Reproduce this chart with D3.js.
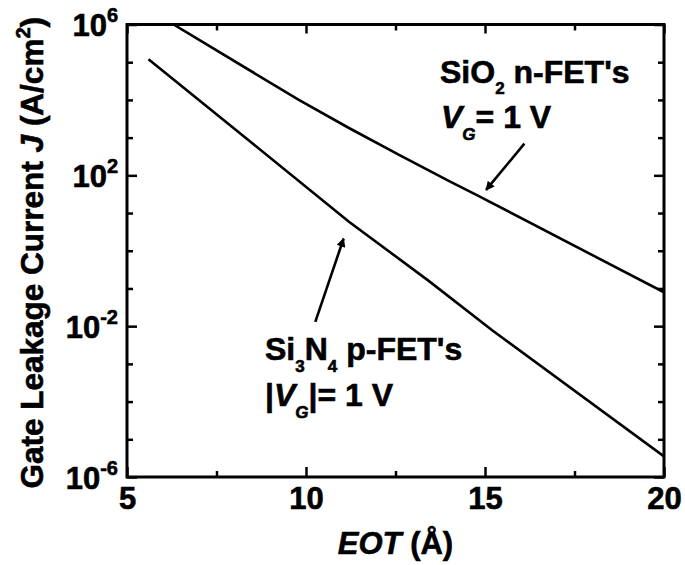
<!DOCTYPE html>
<html>
<head>
<meta charset="utf-8">
<script src="https://cdn.jsdelivr.net/npm/d3@7"></script>
<style>
body { margin: 0; background: #fff; }
svg { font-family: "Liberation Sans", Arial, sans-serif; font-weight: bold; }
svg text { stroke: #000; stroke-width: 0.6px; }
</style>
</head>
<body>
<script>

// SiO2 n-FET's, VG = 1 V
var sio2Eot = [6.3, 9.8, 11.2, 12.6, 14.0, 14.8, 20];
var sio2J = [1.0e6, 1.0e4, 1.8e3, 3.5e2, 7.0e1, 2.9e1, 7.9e-2];

// Si3N4 p-FET's, |VG| = 1 V
var si3n4Eot = [5.6, 8.5, 11.2, 13.4, 15.2, 20];
var si3n4J = [1.2e5, 7.1e2, 5.9, 1.66e-1, 7.8e-3, 3.5e-6];

// ticks
var xMajor = [5, 10, 15, 20];
var xMinor = [7.5, 12.5, 17.5];
var yMajor = [1e-6, 1e-2, 1e2, 1e6];
var yMinor = [1e-5, 1e-4, 1e-3, 1e-1, 1, 1e1, 1e3, 1e4, 1e5];

// arrows: [eot tail, J tail, eot tip, J tip]
var arrows = [
	[16.1, 6.9e2, 15.03, 4.1e1],
	[10.26, 1.3e-2, 11.05, 2.1]
];

let margin = {top: 24.5, right: 21, bottom: 88, left: 127};
let width = 685 - margin.left - margin.right,
	height = 565 - margin.top - margin.bottom;

var svg = d3.select("body").append("svg")
	.attr("width", 685)
	.attr("height", 565);

var g = svg.append("g")
	.attr("transform", "translate(" + margin.left + "," + margin.top + ")");

var x = d3.scaleLinear().domain([5, 20]).range([0, width]);
var y = d3.scaleLog().domain([1e-6, 1e6]).range([height, 0]);

svg.append("defs").append("clipPath").attr("id", "plot-clip")
	.append("rect").attr("width", width).attr("height", height);

svg.select("defs").append("marker")
	.attr("id", "head")
	.attr("viewBox", "0 0 10 10")
	.attr("refX", 9).attr("refY", 5)
	.attr("markerUnits", "userSpaceOnUse")
	.attr("markerWidth", 13).attr("markerHeight", 9)
	.attr("orient", "auto")
	.append("path").attr("d", "M0,0 L10,5 L0,10 z").attr("fill", "#000");

// axes (inward ticks on all four sides)
function styleAxis(sel) {
	sel.select(".domain").remove();
	sel.selectAll(".tick line").attr("stroke", "#000").attr("stroke-width", 2.5);
	sel.selectAll(".tick text").attr("fill", "#000");
}

var yLeft = g.append("g")
	.call(d3.axisLeft(y).tickValues(yMajor).tickSizeInner(-10).tickSizeOuter(0).tickPadding(9))
	.attr("font-size", 31).attr("font-family", null);
yLeft.call(styleAxis);
yLeft.selectAll(".tick text").attr("dy", "0.36em").text(null).each(function (d) {
	var t = d3.select(this);
	t.append("tspan").text("10");
	t.append("tspan").attr("dy", -14).attr("font-size", 20).text(Math.round(Math.log10(d)));
});
g.append("g").call(d3.axisLeft(y).tickValues(yMinor).tickSizeInner(-6).tickSizeOuter(0).tickFormat("")).call(styleAxis);

g.append("g").attr("transform", "translate(" + width + ",0)")
	.call(d3.axisRight(y).tickValues(yMajor).tickSizeInner(-10).tickSizeOuter(0).tickFormat("")).call(styleAxis);
g.append("g").attr("transform", "translate(" + width + ",0)")
	.call(d3.axisRight(y).tickValues(yMinor).tickSizeInner(-6).tickSizeOuter(0).tickFormat("")).call(styleAxis);

var xBottom = g.append("g").attr("transform", "translate(0," + height + ")")
	.call(d3.axisBottom(x).tickValues(xMajor).tickSizeInner(-10).tickSizeOuter(0).tickPadding(10).tickFormat(d3.format("d")))
	.attr("font-size", 31).attr("font-family", null);
xBottom.call(styleAxis);
g.append("g").attr("transform", "translate(0," + height + ")")
	.call(d3.axisBottom(x).tickValues(xMinor).tickSizeInner(-6).tickSizeOuter(0).tickFormat("")).call(styleAxis);

g.append("g").call(d3.axisTop(x).tickValues(xMajor).tickSizeInner(-9).tickSizeOuter(0).tickFormat("")).call(styleAxis);
g.append("g").call(d3.axisTop(x).tickValues(xMinor).tickSizeInner(-6).tickSizeOuter(0).tickFormat("")).call(styleAxis);

// frame
g.append("rect")
	.attr("width", width).attr("height", height)
	.attr("fill", "none").attr("stroke", "#000").attr("stroke-width", 3);

// curves
var line = d3.line()
	.x(function (d) { return x(d[0]); })
	.y(function (d) { return y(d[1]); });

var curves = g.append("g").attr("clip-path", "url(#plot-clip)");
curves.append("path")
	.datum(d3.zip(sio2Eot, sio2J))
	.attr("d", line)
	.attr("fill", "none").attr("stroke", "#000").attr("stroke-width", 2.6);
curves.append("path")
	.datum(d3.zip(si3n4Eot, si3n4J))
	.attr("d", line)
	.attr("fill", "none").attr("stroke", "#000").attr("stroke-width", 2.6);

// arrows
g.selectAll(".arrow")
	.data(arrows)
	.enter().append("line")
	.attr("class", "arrow")
	.attr("x1", function (d) { return x(d[0]); })
	.attr("y1", function (d) { return y(d[1]); })
	.attr("x2", function (d) { return x(d[2]); })
	.attr("y2", function (d) { return y(d[3]); })
	.attr("stroke", "#000").attr("stroke-width", 2.6)
	.attr("marker-end", "url(#head)");

// annotations
var t1 = svg.append("text").attr("x", 440).attr("y", 83).attr("font-size", 32);
t1.append("tspan").text("SiO");
t1.append("tspan").attr("dy", 11).attr("font-size", 17).text("2");
t1.append("tspan").attr("dy", -11).text(" n-FET's");

var t2 = svg.append("text").attr("x", 441).attr("y", 128).attr("font-size", 32);
t2.append("tspan").attr("font-style", "italic").text("V");
t2.append("tspan").attr("dy", 12).attr("font-size", 17).attr("font-style", "italic").text("G");
t2.append("tspan").attr("dy", -12).text("= 1 V");

var t3 = svg.append("text").attr("x", 265).attr("y", 360).attr("font-size", 32);
t3.append("tspan").text("Si");
t3.append("tspan").attr("dy", 12).attr("font-size", 17).text("3");
t3.append("tspan").attr("dy", -12).text("N");
t3.append("tspan").attr("dy", 12).attr("font-size", 17).text("4");
t3.append("tspan").attr("dy", -12).text(" p-FET's");

var t4 = svg.append("text").attr("x", 265).attr("y", 406).attr("font-size", 32);
t4.append("tspan").text("|");
t4.append("tspan").attr("font-style", "italic").text("V");
t4.append("tspan").attr("dy", 12).attr("font-size", 17).attr("font-style", "italic").text("G");
t4.append("tspan").attr("dy", -12).text("|= 1 V");

// axis titles
var xt = svg.append("text")
	.attr("x", margin.left + width / 2).attr("y", 554)
	.attr("text-anchor", "middle").attr("font-size", 31);
xt.append("tspan").attr("font-style", "italic").text("EOT");
xt.append("tspan").text(" (\u00C5)");

var yt = svg.append("text")
	.attr("transform", "translate(43," + (margin.top + height / 2 + 2) + ") rotate(-90)")
	.attr("text-anchor", "middle").attr("font-size", 31.5);
yt.append("tspan").text("Gate Leakage Current ");
yt.append("tspan").attr("font-style", "italic").text("J");
yt.append("tspan").text(" (A/cm");
yt.append("tspan").attr("dy", -13).attr("font-size", 20).text("2");
yt.append("tspan").attr("dy", 13).text(")");

</script>
</body>
</html>
